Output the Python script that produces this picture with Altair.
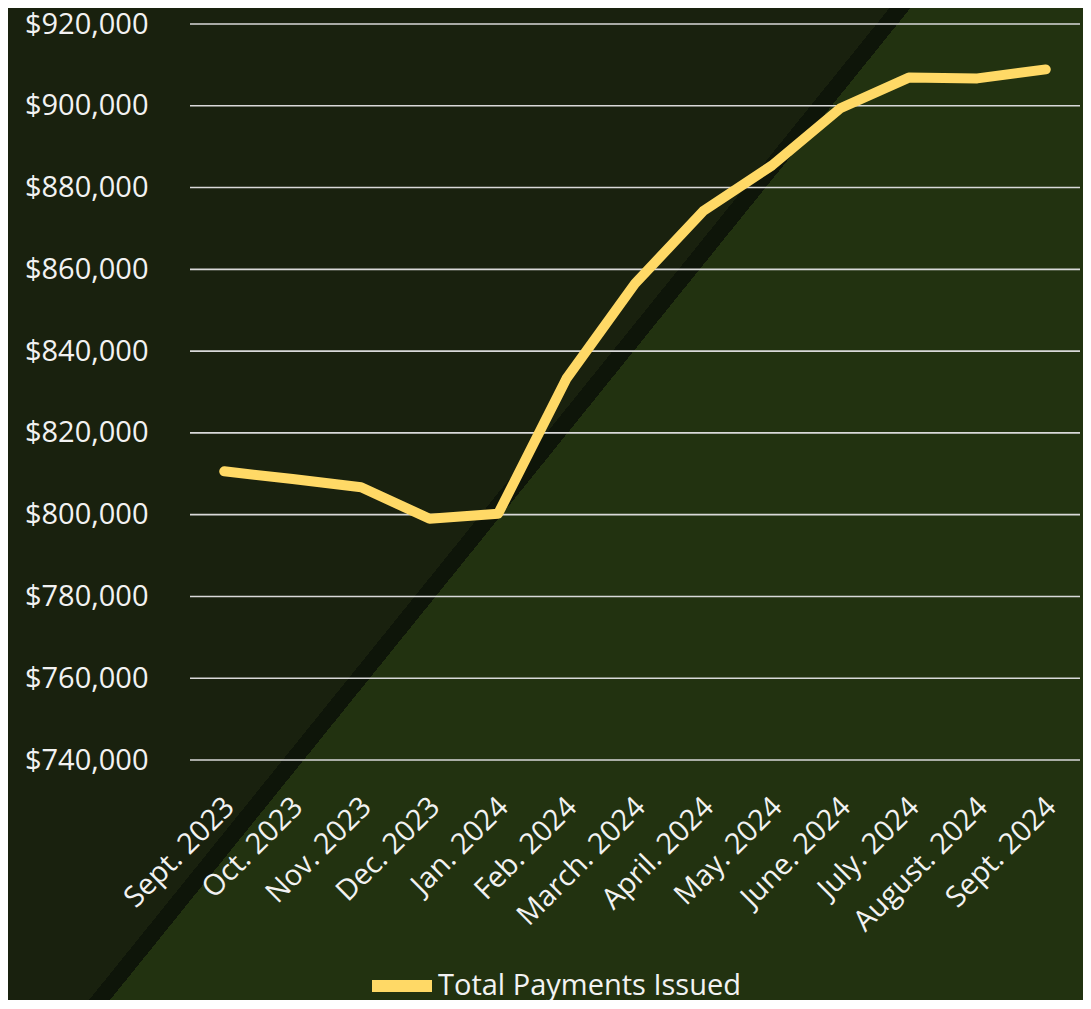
import altair as alt
import pandas as pd

months = ["Sept. 2023", "Oct. 2023", "Nov. 2023", "Dec. 2023", "Jan. 2024",
          "Feb. 2024", "March. 2024", "April. 2024", "May. 2024", "June. 2024",
          "July. 2024", "August. 2024", "Sept. 2024"]
payments = [810600, 808700, 806700, 799000, 800200, 833300, 856500,
            874300, 885400, 899400, 906900, 906700, 908900]
series_name = "Total Payments Issued"
y_ticks = [740000, 760000, 780000, 800000, 820000, 840000, 860000, 880000, 900000, 920000]

df = pd.DataFrame({"month": months, "value": payments, "series": [series_name] * len(months)})
grid_df = pd.DataFrame({"value": y_ticks})

W, H = 890, 736
PAD = {"left": 182, "top": 16, "right": 3, "bottom": 240}
FONT = "Open Sans"
TXT = "#f2f2f2"
FS = 29

y_scale = alt.Scale(domain=[740000, 920000], nice=False, zero=False)
y_axis = alt.Axis(title=None, values=y_ticks, format="$,.0f",
                  ticks=False, domain=False, grid=False,
                  labelPadding=42, labelFontSize=FS, labelColor=TXT,
                  labelFont=FONT, zindex=1)

bg_gradient = alt.LinearGradient(
    gradient="linear",
    x1=0, y1=0, x2=1.1223, y2=0.8357,
    stops=[
        alt.GradientStop(color="#19210e", offset=0),
        alt.GradientStop(color="#19210e", offset=0.4700),
        alt.GradientStop(color="#0e1509", offset=0.4700),
        alt.GradientStop(color="#0e1509", offset=0.4812),
        alt.GradientStop(color="#223210", offset=0.4812),
        alt.GradientStop(color="#223210", offset=1),
    ],
)

bg = alt.Chart(alt.Data(values=[{"a": 1}])).mark_rect(
    fill=bg_gradient, strokeWidth=0, clip=False
).encode(
    x=alt.value(-PAD["left"]),
    x2=alt.value(W + PAD["right"]),
    y=alt.value(-PAD["top"]),
    y2=alt.value(H + PAD["bottom"]),
)

grid = alt.Chart(grid_df).mark_rule(color="#d9d9d9", strokeWidth=1.6).encode(
    y=alt.Y("value:Q", scale=y_scale, axis=y_axis)
)

line = alt.Chart(df).mark_line(
    strokeWidth=10, strokeCap="round", strokeJoin="round"
).encode(
    x=alt.X("month:N", sort=months, scale=alt.Scale(type="point", padding=0.5),
            axis=alt.Axis(title=None, labelAngle=-45, labelAlign="right",
                          labelBaseline="middle", labelPadding=42, labelOffset=5,
                          ticks=False, domain=False, grid=False,
                          labelFontSize=FS, labelColor=TXT, labelFont=FONT,
                          zindex=1)),
    y=alt.Y("value:Q", scale=y_scale, axis=y_axis),
    color=alt.Color("series:N",
                    scale=alt.Scale(domain=[series_name], range=["#FFD966"]),
                    legend=alt.Legend(title=None, orient="none", legendX=176, legendY=926,
                                      symbolType="stroke", symbolSize=3600,
                                      symbolStrokeWidth=12, labelOffset=0,
                                      labelLimit=500,
                                      labelFontSize=FS, labelColor=TXT,
                                      labelFont=FONT, padding=0, zindex=1)),
)

chart = alt.layer(bg, grid, line).properties(
    width=W, height=H,
    autosize=alt.AutoSizeParams(type="none"),
    padding=PAD,
    background="#223210",
).configure_view(stroke=None)

chart.save("out.html", embed_options={"renderer": "svg", "actions": False})
